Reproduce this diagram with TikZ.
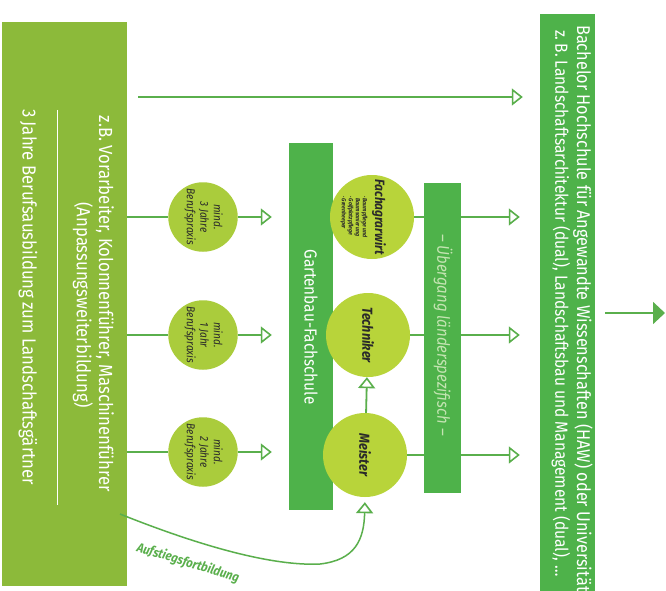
\documentclass[tikz,border=0pt]{standalone}
\usepackage{fontspec}
\setmainfont{Fira Sans}[FakeStretch=0.88]
\usetikzlibrary{arrows.meta}
\definecolor{barOlive}{HTML}{8CBA3A}
\definecolor{barGreen}{HTML}{4EB24A}
\definecolor{circYel}{HTML}{B8D43A}
\definecolor{circMind}{HTML}{AACC3C}
\definecolor{lnGreen}{HTML}{5AAF4C}
\definecolor{txtDark}{HTML}{2A2A2A}
\definecolor{uebTxt}{HTML}{C4E4B2}
\tikzset{
  bar/.style={fill=#1, draw=none, inner sep=0pt},
  bigc/.style={circle, fill=circYel, draw=none, minimum size=84pt, inner sep=0pt},
  mindc/.style={circle, fill=circMind, draw=none, minimum size=62pt, inner sep=0pt,
    text=txtDark, font=\fontsize{11.5}{13.5}\selectfont\itshape, align=center},
  vtxt/.style={rotate=-90, inner sep=0pt, text=white},
  ln/.style={draw=lnGreen, line width=1.8pt},
  opn/.style={-{Triangle[open, length=11pt, width=17pt, line width=1.6pt]}},
  fil/.style={-{Triangle[length=12pt, width=22pt]}},
}
\begin{document}
\begin{tikzpicture}[x=1pt,y=-1pt]
\useasboundingbox (0,0) rectangle (666,591);
\clip (0,0) rectangle (666,591);
\fill[white] (0,0) rectangle (666,591);

% bars
\node[bar=barOlive, minimum width=125pt, minimum height=564pt] (lb) at (64.5,304) {};
\node[bar=barGreen, minimum width=55pt, minimum height=586pt] (rb) at (567.5,307) {};
\node[bar=barGreen, minimum width=44pt, minimum height=367pt] (gb) at (311,326.5) {};
\node[bar=barGreen, minimum width=37pt, minimum height=310pt] (ub) at (442.5,338) {};

% bar texts
\node[vtxt, font=\fontsize{19}{21}\selectfont] (lt1) at (105,304) {z.B. Vorarbeiter, Kolonnenführer, Maschinenführer};
\node[vtxt, font=\fontsize{19}{21}\selectfont] (lt2) at (83,305) {(Anpassungsweiterbildung)};
\draw[white, line width=1pt] (57,110) -- (57,505);
\node[vtxt, font=\fontsize{19}{21}\selectfont] (lt3) at (28,297) {3 Jahre Berufsausbildung zum Landschaftsgärtner};
\node[vtxt, anchor=west, font=\fontsize{18.5}{20}\selectfont] (rt1) at (583,25) {Bachelor Hochschule für Angewandte Wissenschaften (HAW) oder Universität};
\node[vtxt, anchor=west, font=\fontsize{17.6}{19}\selectfont] (rt2) at (561,30) {z.\,B. Landschaftsarchitektur (dual), Landschaftsbau und Management (dual), \dots};
\node[vtxt, font=\fontsize{17.4}{19}\selectfont] (gt) at (311,327) {Gartenbau-Fachschule};
\node[vtxt, text=uebTxt, font=\fontsize{17}{19}\selectfont\itshape] (ut) at (443,335) {– Übergang länderspezifisch –};

% small circles
\node[mindc] (m1) at (203,217) {\rotatebox{-90}{\begin{tabular}{@{}c@{}}mind.\\3 Jahre\\Berufspraxis\end{tabular}}};
\node[mindc] (m2) at (203,335) {\rotatebox{-90}{\begin{tabular}{@{}c@{}}mind.\\1 Jahr\\Berufspraxis\end{tabular}}};
\node[mindc] (m3) at (203,452) {\rotatebox{-90}{\begin{tabular}{@{}c@{}}mind.\\2 Jahre\\Berufspraxis\end{tabular}}};

% big circles
\node[bigc] (fach) at (372,217) {};
\node[bigc] (tech) at (368,335) {};
\node[bigc] (meis) at (365,455) {};
\node[vtxt, text=txtDark, font=\fontsize{13.5}{15}\selectfont\bfseries\itshape] (fachT) at (379,217) {Fachagrarwirt};
\node[vtxt, text=txtDark, anchor=west, align=left, font=\fontsize{6}{7}\selectfont\bfseries\itshape] (fachL) at (354,196) {· Baumpflege und\\\ \ Baumsanierung\\· Golfplatzpflege\\· Greenkeeper};
\node[vtxt, text=txtDark, font=\fontsize{14.5}{16}\selectfont\bfseries\itshape] (techT) at (368,335) {Techniker};
\node[vtxt, text=txtDark, font=\fontsize{14.5}{16}\selectfont\bfseries\itshape] (meisT) at (365,455) {Meister};

% connectors left side
\foreach \m in {m1,m2,m3}{
  \draw[ln] (lb.east |- \m) -- (\m);
  \draw[ln, opn, shorten >=17pt] (\m) -- (\m -| gb.west);
}
\coordinate (topstart) at (138,97);
\draw[ln, opn, shorten >=17pt] (topstart) -- (topstart -| rb.west);

% circles to Übergang and to Bachelor
\foreach \c in {fach,tech,meis}{
  \draw[ln] (\c) -- (\c -| ub.west);
  \draw[ln, opn, shorten >=20pt] (ub.east |- \c) -- (\c -| rb.west);
}
\draw[ln, opn] (meis) -- (tech);

% Aufstiegsfortbildung
\coordinate (aufS) at (120,514);
\draw[ln, line width=1.5pt, opn, shorten >=5pt] (aufS) .. controls (215,552) and (280,566) .. (320,564) .. controls (355,560) and (364,540) .. (meis.south);
\node[rotate=-17, text=lnGreen, font=\fontsize{13}{15}\selectfont\bfseries\itshape] (aufT) at (188,563) {Aufstiegsfortbildung};

% right arrow
\coordinate (rend) at (665,313);
\draw[ln, fil, shorten <=10pt] (rb.east |- rend) -- (rend);
\end{tikzpicture}
\end{document}
